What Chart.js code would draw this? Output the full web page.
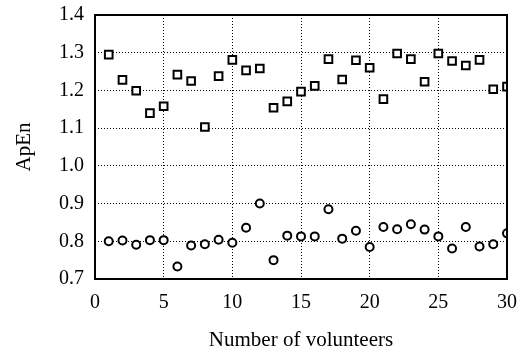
<!DOCTYPE html>
<html>
<head>
<meta charset="utf-8">
<script src="https://cdn.jsdelivr.net/npm/chart.js@4.4.1/dist/chart.umd.min.js"></script>
<style>
  html, body { margin: 0; padding: 0; background: #fff; }
  #wrap { width: 522px; height: 352px; }
</style>
</head>
<body>
<div id="wrap"><canvas id="apenChart"></canvas></div>
<script>
const volunteers = [1, 2, 3, 4, 5, 6, 7, 8, 9, 10, 11, 12, 13, 14, 15,
  16, 17, 18, 19, 20, 21, 22, 23, 24, 25, 26, 27, 28, 29, 30];

// squares (upper group)
const upperApEn = [1.295, 1.228, 1.199, 1.140, 1.158, 1.242, 1.225, 1.103, 1.238, 1.281,
  1.253, 1.258, 1.154, 1.171, 1.197, 1.212, 1.283, 1.229, 1.280, 1.260,
  1.177, 1.298, 1.283, 1.223, 1.298, 1.278, 1.266, 1.281, 1.203, 1.210];

// circles (lower group)
const lowerApEn = [0.800, 0.802, 0.791, 0.803, 0.803, 0.733, 0.789, 0.792, 0.804, 0.796,
  0.836, 0.900, 0.750, 0.815, 0.813, 0.813, 0.885, 0.807, 0.828, 0.785,
  0.838, 0.832, 0.845, 0.831, 0.813, 0.781, 0.838, 0.786, 0.792, 0.821];

const serif = "'Liberation Serif', 'Times New Roman', serif";

const frame = {
  id: 'frame',
  afterDraw(chart) {
    const a = chart.chartArea;
    const c = chart.ctx;
    c.save();
    c.strokeStyle = '#000';
    c.lineWidth = 2;
    c.strokeRect(a.left, a.top, a.right - a.left, a.bottom - a.top);
    c.restore();
  }
};

const ctx = document.getElementById('apenChart').getContext('2d');
new Chart(ctx, {
  type: 'scatter',
  data: {
    datasets: [{
      label: 'upper',
      data: volunteers.map((v, i) => ({ x: v, y: upperApEn[i] })),
      pointStyle: 'rect',
      pointRadius: 5.4,
      borderWidth: 2,
      borderColor: '#000',
      backgroundColor: '#fff'
    }, {
      label: 'lower',
      data: volunteers.map((v, i) => ({ x: v, y: lowerApEn[i] })),
      pointStyle: 'circle',
      pointRadius: 4,
      borderWidth: 2,
      borderColor: '#000',
      backgroundColor: '#fff'
    }]
  },
  options: {
    responsive: true,
    maintainAspectRatio: false,
    animation: false,
    layout: { padding: { top: 15, right: 15, left: 0, bottom: 0 } },
    plugins: {
      legend: { display: false },
      tooltip: { enabled: false }
    },
    scales: {
      x: {
        type: 'linear',
        min: 0,
        max: 30,
        afterFit(s) {
          s.height = 73;
          s.paddingLeft = 0;
          s.paddingRight = 0;
        },
        ticks: {
          stepSize: 5,
          padding: 12,
          color: '#000',
          maxRotation: 0,
          font: { family: serif, size: 20 }
        },
        grid: { color: '#000', lineWidth: 1, drawTicks: false },
        border: { display: false, dash: [1, 2] },
        title: {
          display: true,
          text: 'Number of volunteers',
          color: '#000',
          padding: { top: 15, bottom: -1 },
          font: { family: serif, size: 21 }
        }
      },
      y: {
        min: 0.7,
        max: 1.4,
        afterFit(s) {
          s.width = 95;
          s.paddingTop = 0;
          s.paddingBottom = 0;
        },
        ticks: {
          stepSize: 0.1,
          padding: 11,
          color: '#000',
          font: { family: serif, size: 20 },
          callback: v => v.toFixed(1)
        },
        grid: { color: '#000', lineWidth: 1, drawTicks: false },
        border: { display: false, dash: [1, 2] },
        title: {
          display: true,
          text: 'ApEn',
          color: '#000',
          padding: { top: 12, bottom: 0 },
          font: { family: serif, size: 21 }
        }
      }
    }
  },
  plugins: [frame]
});
</script>
</body>
</html>
